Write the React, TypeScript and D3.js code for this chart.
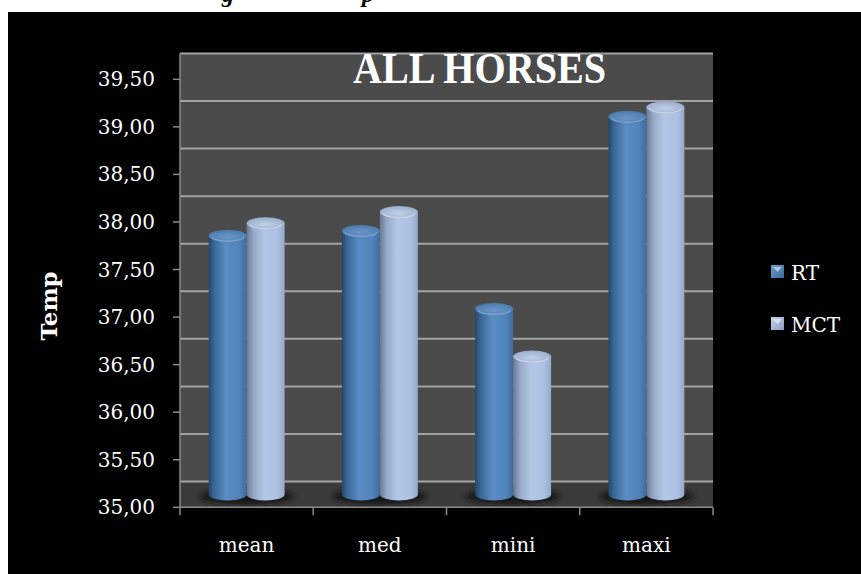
import React from "react";
import * as d3 from "d3";

// Chart data
const categories = ["mean", "med", "mini", "maxi"];
const seriesNames = ["RT", "MCT"];
const rtValues = [37.72, 37.77, 36.95, 38.97];
const mctValues = [37.85, 37.97, 36.45, 39.07];
const yTicks = [35, 35.5, 36, 36.5, 37, 37.5, 38, 38.5, 39, 39.5];
const title = "ALL HORSES";
const yTitle = "Temp";

const W = 861;
const H = 574;

// Plot geometry (front plane of the 3D box)
const left = 180;
const right = 713;
const depth = 25.8; // vertical offset of the back wall relative to the front plane

const yFront = d3.scaleLinear().domain([35, 39.5]).range([507.3, 79.3]);
const yBack = (v: number) => yFront(v) - depth;
const yMid = (v: number) => yFront(v) - depth / 2;

const xBand = d3
  .scaleBand<string>()
  .domain(categories)
  .range([left, right])
  .paddingInner(0.43)
  .paddingOuter(0.215);
const xSeries = d3
  .scaleBand<string>()
  .domain(seriesNames)
  .range([0, xBand.bandwidth()])
  .padding(0);

const fmt = (v: number) => v.toFixed(2).replace(".", ",");

const values: Record<string, number[]> = { RT: rtValues, MCT: mctValues };

function Cylinder({ x, w, v, s }: { x: number; w: number; v: number; s: string }) {
  const rx = w / 2;
  const ry = 6;
  const cx = x + rx;
  const yTop = yMid(v);
  const yBase = yMid(35);
  const body = `M${x},${yTop} L${x},${yBase} A${rx},${ry} 0 0 0 ${x + w},${yBase} L${x + w},${yTop} Z`;
  return (
    <g>
      <path d={body} fill={`url(#body-${s})`} />
      <ellipse cx={cx} cy={yTop} rx={rx} ry={ry} fill={`url(#top-${s})`} />
      <path
        d={`M${x + 3},${yTop + 1} A${rx - 3},${ry - 1.5} 0 0 0 ${x + w - 3},${yTop + 1}`}
        fill="none"
        stroke={s === "RT" ? "#8fb2d9" : "#d4e0f2"}
        strokeWidth={1.2}
        opacity={0.7}
      />
    </g>
  );
}

export default function App() {
  const gridColor = "#a3a3a3";
  const axisColor = "#8a8a8a";
  const font = "'DejaVu Serif', serif";
  return (
    <svg
      width={W}
      height={H}
      style={{ position: "absolute", left: 0, top: 0, display: "block" }}
    >
      <defs>
        <linearGradient id="body-RT" x1="0" x2="1" y1="0" y2="0">
          <stop offset="0" stopColor="#25466b" />
          <stop offset="0.15" stopColor="#3a6896" />
          <stop offset="0.45" stopColor="#5a8cc3" />
          <stop offset="0.8" stopColor="#5284bc" />
          <stop offset="1" stopColor="#3e6c9e" />
        </linearGradient>
        <linearGradient id="body-MCT" x1="0" x2="1" y1="0" y2="0">
          <stop offset="0" stopColor="#6a7893" />
          <stop offset="0.18" stopColor="#95a8c8" />
          <stop offset="0.45" stopColor="#b4c6e6" />
          <stop offset="0.8" stopColor="#adc1e3" />
          <stop offset="1" stopColor="#95a9cc" />
        </linearGradient>
        <radialGradient id="top-RT" cx="0.5" cy="0.6" r="0.6">
          <stop offset="0" stopColor="#6a97c9" />
          <stop offset="1" stopColor="#4a7aae" />
        </radialGradient>
        <radialGradient id="top-MCT" cx="0.5" cy="0.6" r="0.6">
          <stop offset="0" stopColor="#c1d0e8" />
          <stop offset="1" stopColor="#9aaccb" />
        </radialGradient>
        <linearGradient id="leg-RT" x1="0" x2="1" y1="0" y2="1">
          <stop offset="0" stopColor="#6d9bd0" />
          <stop offset="1" stopColor="#3b6a9c" />
        </linearGradient>
        <linearGradient id="leg-MCT" x1="0" x2="1" y1="0" y2="1">
          <stop offset="0" stopColor="#c6d4ec" />
          <stop offset="1" stopColor="#8a9dc0" />
        </linearGradient>
        <filter id="shadowBlur" x="-30%" y="-100%" width="160%" height="300%">
          <feGaussianBlur stdDeviation="2.5" />
        </filter>
        <clipPath id="topStrip">
          <rect x={0} y={0} width={W} height={12} />
        </clipPath>
      </defs>

      {/* page and chart background */}
      <rect x={0} y={0} width={W} height={H} fill="#ffffff" />
      <g clipPath="url(#topStrip)" fontFamily="'Liberation Serif', serif" fontStyle="italic" fontWeight="bold" fontSize={24} fill="#000">
        <text x={222} y={2}>g</text>
        <text x={362} y={2}>p</text>
      </g>
      <rect x={8} y={12} width={W - 8} height={H - 12} fill="#000000" />

      {/* back wall */}
      <rect x={left} y={yBack(39.5)} width={right - left} height={yBack(35) - yBack(39.5)} fill="#4b4b4b" />
      {/* floor */}
      <rect x={left} y={yBack(35)} width={right - left} height={depth} fill="#3a3a3a" />

      {/* gridlines on the back wall */}
      {yTicks.map((t) => (
        <line key={`g${t}`} x1={left} x2={right} y1={yBack(t)} y2={yBack(t)} stroke={gridColor} strokeWidth={2} />
      ))}

      {/* title */}
      <text
        x={479.5}
        y={83.3}
        textAnchor="middle"
        fontFamily="'Liberation Serif', serif"
        fontWeight="bold"
        fontSize={45}
        fill="#ffffff"
        textLength={253}
        lengthAdjust="spacingAndGlyphs"
      >
        {title}
      </text>

      {/* shadows under each pair */}
      {categories.map((c) => (
        <ellipse
          key={`s${c}`}
          cx={(xBand(c) as number) + xBand.bandwidth() / 2}
          cy={yMid(35) + 2}
          rx={xBand.bandwidth() / 2 + 9}
          ry={8}
          fill="#141414"
          opacity={0.95}
          filter="url(#shadowBlur)"
        />
      ))}

      {/* cylinders */}
      {categories.map((c, i) => (
        <g key={`b${c}`}>
          {seriesNames.map((s) => (
            <Cylinder
              key={s}
              x={(xBand(c) as number) + (xSeries(s) as number)}
              w={xSeries.bandwidth()}
              v={values[s][i]}
              s={s}
            />
          ))}
        </g>
      ))}

      {/* y axis */}
      <line x1={left} x2={left} y1={yBack(39.5)} y2={yFront(35)} stroke={axisColor} strokeWidth={1.5} />
      {yTicks.map((t) => (
        <g key={`t${t}`}>
          <line x1={left - 7} x2={left} y1={yFront(t)} y2={yFront(t)} stroke={axisColor} strokeWidth={1.5} />
          <text
            x={155}
            y={yFront(t) + 7}
            textAnchor="end"
            fontFamily={font}
            fontSize={20}
            fill="#ffffff"
          >
            {fmt(t)}
          </text>
        </g>
      ))}

      {/* x axis */}
      <line x1={left} x2={right} y1={yFront(35)} y2={yFront(35)} stroke={axisColor} strokeWidth={1.5} />
      {[...categories.map((c) => (xBand(c) as number) - (xBand.step() - xBand.bandwidth()) / 2), right].map((x, i) => (
        <line key={`xt${i}`} x1={x} x2={x} y1={yFront(35)} y2={yFront(35) + 8} stroke={axisColor} strokeWidth={1.5} />
      ))}
      {categories.map((c) => (
        <text
          key={`l${c}`}
          x={(xBand(c) as number) + xBand.bandwidth() / 2}
          y={552}
          textAnchor="middle"
          fontFamily={font}
          fontSize={20}
          fill="#ffffff"
        >
          {c}
        </text>
      ))}

      {/* y axis title */}
      <text
        transform={`translate(57,306) rotate(-90)`}
        textAnchor="middle"
        fontFamily={font}
        fontWeight="bold"
        fontSize={22}
        fill="#ffffff"
        textLength={69}
        lengthAdjust="spacingAndGlyphs"
      >
        {yTitle}
      </text>

      {/* legend */}
      {seriesNames.map((s, i) => (
        <g key={`lg${s}`} transform={`translate(771,${265 + i * 52})`}>
          <rect x={0} y={0} width={13} height={13} fill={`url(#leg-${s})`} />
          <path d="M2,2 L11,2 L6.5,7 Z" fill="#ffffff" opacity={0.5} />
          <text x={20} y={14.5} fontFamily={font} fontSize={20} fill="#ffffff">
            {s}
          </text>
        </g>
      ))}
    </svg>
  );
}
